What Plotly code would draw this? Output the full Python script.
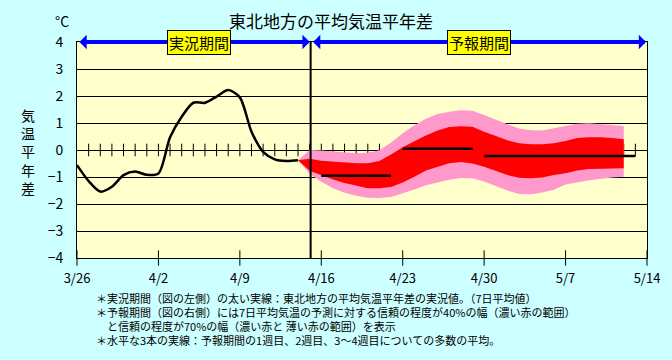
import plotly.graph_objects as go
import pandas as pd

# ---------------- data ----------------
title_text = "東北地方の平均気温平年差"
unit_text = "°C"
y_title_chars = ["気", "温", "平", "年", "差"]

# observed 7-day mean anomaly (3/26 .. 4/14)
obs_dates = pd.date_range("2024-03-26", "2024-04-14").strftime("%Y-%m-%d").tolist()
obs_values = [-0.56, -1.15, -1.54, -1.36, -0.93, -0.80, -0.92, -0.87, 0.47, 1.23,
              1.75, 1.75, 1.98, 2.22, 1.95, 0.68, -0.07, -0.35, -0.41, -0.38]

# forecast bands (4/14 .. 5/12)
fc_dates = pd.date_range("2024-04-14", "2024-05-12").strftime("%Y-%m-%d").tolist()
band70_upper = [-0.38, 0.00, -0.02, -0.06, -0.10, -0.12, -0.10, -0.01, 0.28, 0.62,
                0.92, 1.16, 1.33, 1.42, 1.47, 1.45, 1.30, 1.12, 0.95, 0.80,
                0.73, 0.72, 0.80, 0.88, 0.97, 0.99, 0.97, 0.93, 0.89]
band70_lower = [-0.38, -0.88, -1.18, -1.42, -1.58, -1.69, -1.77, -1.78, -1.74, -1.60,
                -1.46, -1.31, -1.20, -1.10, -1.04, -1.05, -1.17, -1.33, -1.50, -1.63,
                -1.64, -1.57, -1.47, -1.28, -1.20, -1.12, -1.06, -1.02, -0.99]
band40_upper = [-0.38, -0.32, -0.40, -0.43, -0.47, -0.49, -0.49, -0.41, -0.17, 0.10,
                0.32, 0.54, 0.72, 0.85, 0.88, 0.86, 0.68, 0.52, 0.36, 0.25,
                0.21, 0.21, 0.25, 0.33, 0.44, 0.47, 0.47, 0.44, 0.40]
band40_lower = [-0.38, -0.77, -0.93, -1.09, -1.22, -1.33, -1.42, -1.42, -1.37, -1.20,
                -0.99, -0.76, -0.62, -0.49, -0.44, -0.50, -0.62, -0.78, -0.93, -1.03,
                -1.05, -1.02, -0.93, -0.86, -0.76, -0.70, -0.68, -0.68, -0.68]

# ensemble means: week 1, week 2, weeks 3-4
mean_starts = ["2024-04-16", "2024-04-23", "2024-04-30"]
mean_ends = ["2024-04-22", "2024-04-29", "2024-05-13"]
mean_values = [-0.95, 0.05, -0.22]

range_start = "2024-03-26"
range_end = "2024-05-14"
boundary_date = "2024-04-15 02:00"
obs_label = "実況期間"
fc_label = "予報期間"

x_tick_dates = ["2024-03-26", "2024-04-02", "2024-04-09", "2024-04-16",
                "2024-04-23", "2024-04-30", "2024-05-07", "2024-05-14"]
x_tick_labels = ["3/26", "4/2", "4/9", "4/16", "4/23", "4/30", "5/7", "5/14"]
y_tick_values = [-4, -3, -2, -1, 0, 1, 2, 3, 4]
day_tick_dates = pd.date_range("2024-03-27", "2024-05-13").strftime("%Y-%m-%d").tolist()

notes = [
    "＊実況期間（図の左側）の太い実線：東北地方の平均気温平年差の実況値。（7日平均値）",
    "＊予報期間（図の右側）には7日平均気温の予測に対する信頼の程度が40%の幅（濃い赤の範囲）",
    "\u2002\u2002と信頼の程度が70%の幅（濃い赤と 薄い赤の範囲）を表示",
    "＊水平な3本の実線：予報期間の1週目、2週目、3～4週目についての多数の平均。",
]

FONT = "Noto Sans CJK JP, sans-serif"
W, H = 672, 360
ML, MR, MT, MB = 77, 17, 42, 102
PW, PH = W - ML - MR, H - MT - MB


def px_x(px):
    return (px - ML) / PW


def px_y(py):
    return (H - MB - py) / PH


fig = go.Figure()

# daily tick marks on the zero line (below bands)
fig.add_trace(go.Scatter(
    x=day_tick_dates, y=[0] * len(day_tick_dates), mode="markers",
    marker=dict(symbol="line-ns", size=9, line=dict(color="black", width=1)),
    hoverinfo="skip", showlegend=False))

# weekly ticks crossing the bottom axis
fig.add_trace(go.Scatter(
    x=x_tick_dates, y=[-4] * len(x_tick_dates), mode="markers",
    marker=dict(symbol="line-ns", size=11, line=dict(color="black", width=1)),
    cliponaxis=False, hoverinfo="skip", showlegend=False))

# 70% band
fig.add_trace(go.Scatter(
    x=fc_dates + fc_dates[::-1], y=band70_upper + band70_lower[::-1],
    fill="toself", fillcolor="#FF99CC", line=dict(width=0), mode="lines",
    hoverinfo="skip", showlegend=False))
# 40% band
fig.add_trace(go.Scatter(
    x=fc_dates + fc_dates[::-1], y=band40_upper + band40_lower[::-1],
    fill="toself", fillcolor="#FF0000", line=dict(width=0), mode="lines",
    hoverinfo="skip", showlegend=False))

# ensemble mean lines
for s, e, v in zip(mean_starts, mean_ends, mean_values):
    fig.add_trace(go.Scatter(x=[s, e], y=[v, v], mode="lines",
                             line=dict(color="black", width=2.5),
                             hoverinfo="skip", showlegend=False))

# observed line
fig.add_trace(go.Scatter(x=obs_dates, y=obs_values, mode="lines",
                         line=dict(color="black", width=2.5, shape="spline", smoothing=0.8),
                         showlegend=False))

# boundary line
fig.add_shape(type="line", xref="x", yref="y", x0=boundary_date, x1=boundary_date,
              y0=-4, y1=4, line=dict(color="black", width=2))

# period arrows
for a, b in [(range_start, boundary_date), (boundary_date, range_end)]:
    fig.add_annotation(x=b, y=4, ax=a, ay=4, xref="x", yref="y", axref="x", ayref="y",
                       text="", showarrow=True, arrowside="end+start",
                       arrowhead=1, startarrowhead=1, arrowsize=0.6, startarrowsize=0.6,
                       arrowwidth=4, arrowcolor="#0000FF", standoff=1, startstandoff=1)

t0 = pd.Timestamp(range_start)
tb = pd.Timestamp(boundary_date)
t1 = pd.Timestamp(range_end)
for lbl, xm in [(obs_label, t0 + (tb - t0) / 2 + pd.Timedelta(hours=10)), (fc_label, tb + (t1 - tb) / 2)]:
    fig.add_annotation(x=xm, y=4, xref="x", yref="y", text=lbl, showarrow=False,
                       font=dict(size=15, color="black", family=FONT),
                       bgcolor="#FFFF00", bordercolor="black", borderwidth=1, borderpad=1)

# title, unit, y title
fig.add_annotation(x=px_x(335), y=px_y(20), xref="paper", yref="paper", text=title_text,
                   xanchor="center", yanchor="middle",
                   showarrow=False, font=dict(size=17, color="black", family=FONT))
fig.add_annotation(x=px_x(62), y=px_y(21), xref="paper", yref="paper", text=unit_text,
                   xanchor="center", yanchor="middle",
                   showarrow=False, font=dict(size=14, color="black", family=FONT))
fig.add_annotation(x=px_x(27), y=px_y(151), xref="paper", yref="paper",
                   xanchor="center", yanchor="middle",
                   text="<br>".join(y_title_chars), showarrow=False,
                   font=dict(size=14, color="black", family=FONT))

# footnotes
for i, line in enumerate(notes):
    fig.add_annotation(x=px_x(94), y=px_y(298 + 14 * i), xref="paper", yref="paper",
                       xanchor="left", yanchor="middle", align="left", text=line,
                       showarrow=False, font=dict(size=11, color="black", family=FONT))

fig.update_layout(
    width=W, height=H,
    margin=dict(l=ML, r=MR, t=MT, b=MB),
    paper_bgcolor="#CCFFFF", plot_bgcolor="#FFFFCC",
    font=dict(family=FONT, color="black", size=13),
    showlegend=False,
    xaxis=dict(type="date", range=[range_start, range_end], tickvals=x_tick_dates,
               ticktext=x_tick_labels, showgrid=False, showline=True, linecolor="black",
               linewidth=1, mirror=True, ticks="", ticklabelstandoff=8,
               tickfont=dict(size=13), zeroline=False),
    yaxis=dict(range=[-4, 4], tickvals=y_tick_values, showgrid=True, gridcolor="black",
               gridwidth=1, zeroline=True, zerolinecolor="black", zerolinewidth=1,
               showline=True, linecolor="black", linewidth=1, mirror=True, ticks="",
               ticklabelstandoff=10, tickfont=dict(size=14)),
)

fig.write_html("out.html", config={"displayModeBar": False},
               post_script="document.body.style.margin='0';")
